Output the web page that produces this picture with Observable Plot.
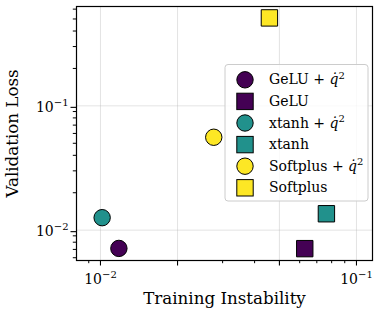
<!DOCTYPE html>
<html><head><meta charset="utf-8">
<script src="https://cdn.jsdelivr.net/npm/d3@7"></script>
<script src="https://cdn.jsdelivr.net/npm/@observablehq/plot@0.6"></script>
<style>body{margin:0;background:#fff}</style>
</head><body><div id="chart"></div><script>
// ---- data ----
const labels = ["GeLU + q̇²", "GeLU", "xtanh + q̇²", "xtanh", "Softplus + q̇²", "Softplus"];
const activation = ["GeLU", "GeLU", "xtanh", "xtanh", "Softplus", "Softplus"];
const withQ = [true, false, true, false, true, false];
const instability = [0.0118, 0.0628, 0.01015, 0.0763, 0.0277, 0.0457];
const valLoss = [0.00713, 0.0071, 0.0126, 0.01355, 0.0559, 0.51];
const actNames = ["GeLU", "xtanh", "Softplus"];
const actColors = ["#440154", "#21918c", "#fde725"];
const xMajor = [0.01, 0.02, 0.05, 0.1];
const xMinor = [0.009, 0.03, 0.04, 0.06, 0.07, 0.08, 0.09];
const xLabeled = [0.01, 0.1];
const yMajor = [0.01, 0.1];
const yMinor = [0.006, 0.007, 0.008, 0.009, 0.02, 0.03, 0.04, 0.05, 0.06, 0.07, 0.08, 0.09, 0.2, 0.3, 0.4, 0.5, 0.6];
const xTitle = "Training Instability";
const yTitle = "Validation Loss";

const rows = labels.map((l, i) => ({label: l, act: activation[i], q: withQ[i], x: instability[i], y: valLoss[i]}));
const font = "DejaVu Serif";
const expFmt = d => xLabeled.includes(d) || yMajor.includes(d) ? String(Math.round(Math.log10(d))) : "";

const plot = Plot.plot({
  width: 381, height: 315,
  marginLeft: 76, marginRight: 9, marginTop: 6, marginBottom: 55,
  style: {fontFamily: font, background: "white", color: "black"},
  x: {type: "log", domain: [0.00806, 0.1155]},
  y: {type: "log", domain: [0.0057, 0.63]},
  color: {domain: actNames, range: actColors},
  marks: [
    Plot.gridX(xMajor, {stroke: "#b0b0b0", strokeOpacity: 0.35, strokeWidth: 1}),
    Plot.gridY(yMajor, {stroke: "#b0b0b0", strokeOpacity: 0.35, strokeWidth: 1}),
    Plot.dot(rows.filter(d => d.q), {x: "x", y: "y", fill: "act", stroke: "black", strokeWidth: 1, r: 8.2, symbol: "circle"}),
    Plot.dot(rows.filter(d => !d.q), {x: "x", y: "y", fill: "act", stroke: "black", strokeWidth: 1, r: 9.25, symbol: "square"}),
    Plot.frame({stroke: "black", strokeWidth: 1.2}),
    Plot.axisX(xMinor, {tickSize: 3.2, tickFormat: () => "", label: null, strokeWidth: 1}),
    Plot.axisX(xMajor, {tickSize: 5.5, tickPadding: 8, tickFormat: expFmt, label: null, fontSize: 14, strokeWidth: 1.1}),
    Plot.axisY(yMinor, {tickSize: 3.2, tickFormat: () => "", label: null, strokeWidth: 1}),
    Plot.axisY(yMajor, {tickSize: 5.5, tickPadding: 2.5, tickFormat: expFmt, label: null, fontSize: 14, dy: 1.5, strokeWidth: 1.1}),
    Plot.text([xTitle], {text: d => d, frameAnchor: "bottom", dy: 38, fontSize: 16.7, lineAnchor: "middle", textAnchor: "middle", fill: "black"}),
    Plot.text([yTitle], {text: d => d, frameAnchor: "left", dx: -64, rotate: -90, fontSize: 16.7, lineAnchor: "middle", textAnchor: "middle", fill: "black"})
  ]
});

const svg = d3.select(plot);
// render tick labels as 10^exp
svg.selectAll("[aria-label='x-axis tick label'] text, [aria-label='y-axis tick label'] text").each(function() {
  const e = this.textContent;
  if (!e) return;
  const t = d3.select(this);
  t.text("");
  t.append("tspan").text("10");
  t.append("tspan").attr("dy", "-6").attr("font-size", "10px").text("−" + e.replace("-", ""));
});

// legend
const colorScale = plot.scale("color");
const lg = svg.append("g").attr("font-family", font).attr("font-size", 14).attr("text-anchor", "start");
lg.append("rect").attr("x", 225).attr("y", 64.5).attr("width", 143).attr("height", 136.5).attr("rx", 3)
  .attr("fill", "white").attr("fill-opacity", 0.8).attr("stroke", "#cccccc").attr("stroke-width", 1);
rows.forEach((d, i) => {
  const cy = 79.8 + i * 21.6;
  const c = colorScale.apply(d.act);
  if (d.q) lg.append("circle").attr("cx", 245).attr("cy", cy).attr("r", 8.2).attr("fill", c).attr("stroke", "black");
  else lg.append("rect").attr("x", 245 - 8.2).attr("y", cy - 8.2).attr("width", 16.4).attr("height", 16.4).attr("fill", c).attr("stroke", "black");
  const t = lg.append("text").attr("x", 269).attr("y", cy + 4.5).attr("fill", "black").attr("text-anchor", "start");
  const parts = d.label.split("q̇²");
  t.append("tspan").text(parts[0].replace(/ $/, "\u00a0"));
  if (d.q) {
    t.append("tspan").attr("font-style", "italic").text("q̇");
    t.append("tspan").attr("dy", -5.5).attr("font-size", "10px").text("2");
  }
});

document.getElementById("chart").append(plot);
</script></body></html>
